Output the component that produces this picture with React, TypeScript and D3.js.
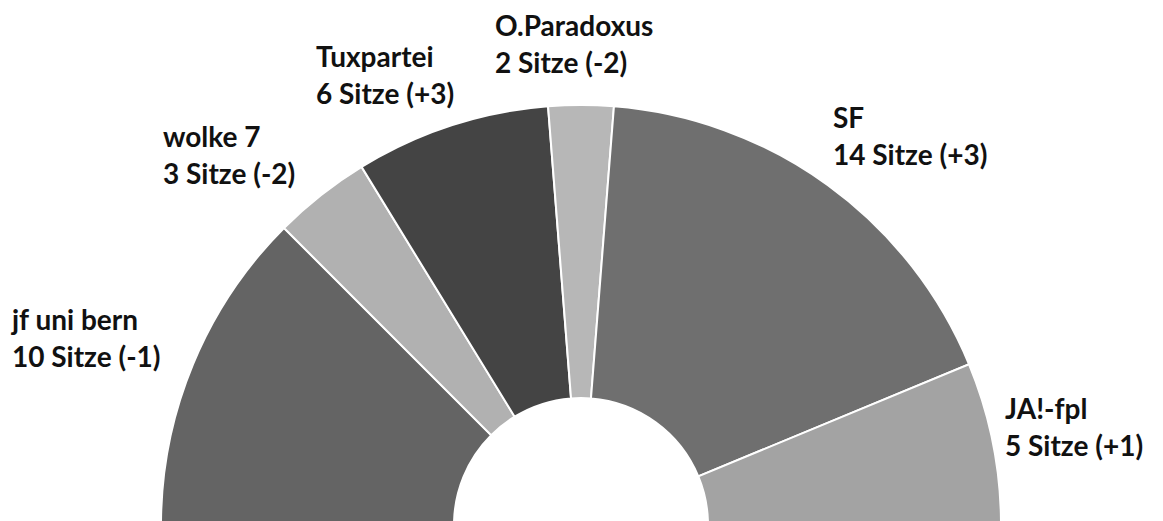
import * as d3 from "d3";

const parties = ["jf uni bern", "wolke 7", "Tuxpartei", "O.Paradoxus", "SF", "JA!-fpl"];
const seats = [10, 3, 6, 2, 14, 5];
const changes = ["-1", "-2", "+3", "-2", "+3", "+1"];
const colors = ["#646464", "#b1b1b1", "#444444", "#b7b7b7", "#6f6f6f", "#a3a3a3"];

// label anchor (left x, first baseline) for each party
const labelPos: [number, number][] = [
  [12, 330],
  [163, 147],
  [316, 67],
  [495, 36],
  [833, 128],
  [1005, 419],
];

export default function App() {
  const width = 1163;
  const height = 521;
  const cx = 581;
  const cy = 525;
  const outerR = 420;
  const innerR = 127;

  const pie = d3
    .pie<number>()
    .sort(null)
    .value((d) => d)
    .startAngle(-Math.PI / 2)
    .endAngle(Math.PI / 2);

  const arc = d3.arc<d3.PieArcDatum<number>>().innerRadius(innerR).outerRadius(outerR);

  const arcs = pie(seats);

  return (
    <svg
      width={width}
      height={height}
      style={{ position: "absolute", left: 0, top: 0, background: "white" }}
    >
      <g transform={`translate(${cx},${cy})`}>
        {arcs.map((a, i) => (
          <path key={i} d={arc(a) || ""} fill={colors[i]} stroke="#fff" strokeWidth={2} />
        ))}
      </g>
      {parties.map((p, i) => (
        <text
          key={p}
          x={labelPos[i][0]}
          y={labelPos[i][1]}
          fontFamily="Lato, sans-serif"
          fontWeight={700}
          fontSize={28}
          fill="#111"
        >
          <tspan x={labelPos[i][0]}>{p}</tspan>
          <tspan x={labelPos[i][0]} dy={37}>
            {`${seats[i]} Sitze (${changes[i]})`}
          </tspan>
        </text>
      ))}
    </svg>
  );
}
